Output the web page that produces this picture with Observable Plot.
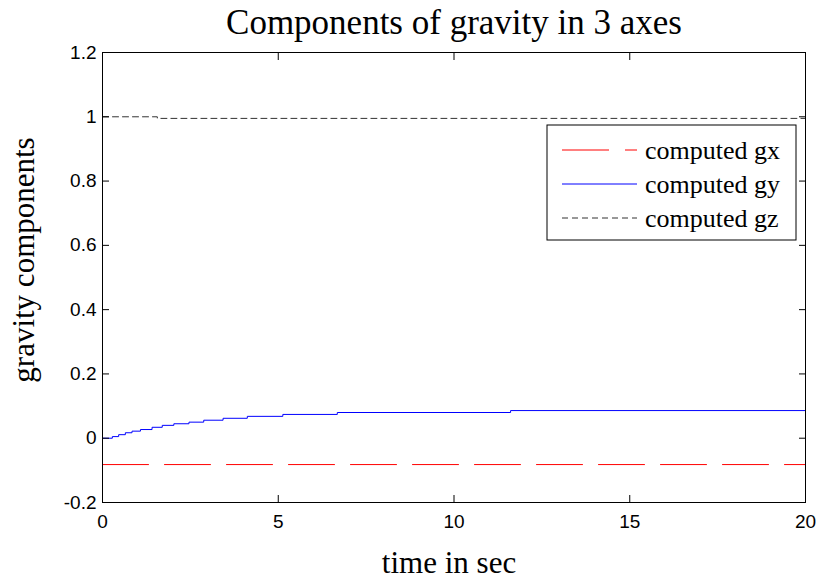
<!DOCTYPE html>
<html>
<head>
<meta charset="utf-8">
<script src="https://cdn.jsdelivr.net/npm/d3@7"></script>
<script src="https://cdn.jsdelivr.net/npm/@observablehq/plot@0.6"></script>
<style>
  html, body { margin: 0; padding: 0; background: #fff; }
</style>
</head>
<body>
<div id="chart"></div>
<script>
// ---- data ----
const titleText = "Components of gravity in 3 axes";
const xLabel = "time in sec";
const yLabel = "gravity components";
const xTicks = [0, 5, 10, 15, 20];
const yTicks = [-0.2, 0, 0.2, 0.4, 0.6, 0.8, 1, 1.2];
const seriesNames = ["computed gx", "computed gy", "computed gz"];

const gxTime = [0, 20];
const gxValue = [-0.082, -0.082];

const gyTime = [0, 0.28, 0.46, 0.65, 0.84, 1.08, 1.41, 1.70, 2.03, 2.46, 2.88, 3.43, 4.12, 5.13, 6.68, 11.61, 20];
const gyValue = [0, 0.005, 0.011, 0.017, 0.022, 0.027, 0.034, 0.040, 0.045, 0.050, 0.056, 0.062, 0.068, 0.074, 0.080, 0.086, 0.086];

const gzTime = [0, 1.56, 20];
const gzValue = [1.0, 0.995, 0.995];

// ---- build tables ----
const gx = gxTime.map((t, i) => ({t, v: gxValue[i]}));
const gy = gyTime.map((t, i) => ({t, v: gyValue[i]}));
const gz = gzTime.map((t, i) => ({t, v: gzValue[i]}));

const styles = [
  {stroke: "#ff0000", dash: "46 16"},
  {stroke: "#0000ff", dash: null},
  {stroke: "#333333", dash: "6 4"}
];

const tickFont = "Liberation Sans, Arial, sans-serif";
const serif = "Liberation Serif, Times New Roman, serif";
const fmtY = d => String(+d.toFixed(1));

const plot = Plot.plot({
  width: 822,
  height: 582,
  marginLeft: 102,
  marginRight: 17,
  marginTop: 52,
  marginBottom: 80,
  style: {fontFamily: tickFont, fontSize: "19px", background: "#fff", color: "#000"},
  x: {domain: [0, 20], ticks: xTicks, label: null},
  y: {domain: [-0.2, 1.2], ticks: yTicks, label: null},
  marks: [
    Plot.line(gx, {x: "t", y: "v", stroke: styles[0].stroke, strokeWidth: 1, strokeDasharray: styles[0].dash}),
    Plot.line(gy, {x: "t", y: "v", stroke: styles[1].stroke, strokeWidth: 1, curve: "step-after"}),
    Plot.line(gz, {x: "t", y: "v", stroke: styles[2].stroke, strokeWidth: 1, strokeDasharray: styles[2].dash, curve: "step-after"}),
    // tick labels (no tick marks)
    Plot.axisX({anchor: "bottom", ticks: xTicks, tickSize: 0, tickPadding: 12, tickFormat: d => String(d), fontSize: 19, label: null}),
    Plot.axisY({anchor: "left", ticks: yTicks, tickSize: 0, tickPadding: 6, tickFormat: fmtY, fontSize: 19, label: null}),
    // inward tick marks on all four sides
    Plot.axisX({anchor: "bottom", ticks: xTicks, tickSize: 7, dy: -7, tickFormat: () => "", label: null}),
    Plot.axisX({anchor: "top", ticks: xTicks, tickSize: 7, dy: 7, tickFormat: () => "", label: null}),
    Plot.axisY({anchor: "left", ticks: yTicks, tickSize: 7, dx: 7, tickFormat: () => "", label: null}),
    Plot.axisY({anchor: "right", ticks: yTicks, tickSize: 7, dx: -7, tickFormat: () => "", label: null}),
    Plot.frame({stroke: "#000", strokeWidth: 1}),
    Plot.text([titleText], {frameAnchor: "top", text: d => d, lineAnchor: "bottom", dy: -19, fontSize: 35, fontFamily: serif, fill: "#000"}),
    Plot.text([xLabel], {frameAnchor: "bottom", text: d => d, lineAnchor: "bottom", dx: -5, dy: 70, fontSize: 31, fontFamily: serif, fill: "#000"})
  ]
});

document.getElementById("chart").appendChild(plot);

const svg = d3.select(plot);

// ---- y-axis label (rotated) ----
svg.append("text")
  .attr("transform", "translate(24,260) rotate(-90)")
  .attr("text-anchor", "middle")
  .attr("dy", "0.32em")
  .attr("font-family", serif).attr("font-size", 31)
  .attr("fill", "#000")
  .text(yLabel);

// ---- legend box (inside the axes, top-right) ----
const lg = svg.append("g").attr("class", "legend").attr("text-anchor", "start");
lg.append("rect")
  .attr("x", 547).attr("y", 125).attr("width", 249).attr("height", 115)
  .attr("fill", "#fff").attr("stroke", "#000").attr("stroke-width", 1);
seriesNames.forEach((name, i) => {
  const cy = 150 + i * 34;
  lg.append("line")
    .attr("x1", 562).attr("x2", 637).attr("y1", cy).attr("y2", cy)
    .attr("stroke", styles[i].stroke).attr("stroke-width", 1)
    .attr("stroke-dasharray", i === 0 ? "47 16" : styles[i].dash);
  lg.append("text")
    .attr("x", 645).attr("y", cy).attr("dy", "0.35em")
    .attr("text-anchor", "start")
    .attr("font-family", serif).attr("font-size", 26)
    .attr("fill", "#000")
    .text(name);
});
</script>
</body>
</html>
